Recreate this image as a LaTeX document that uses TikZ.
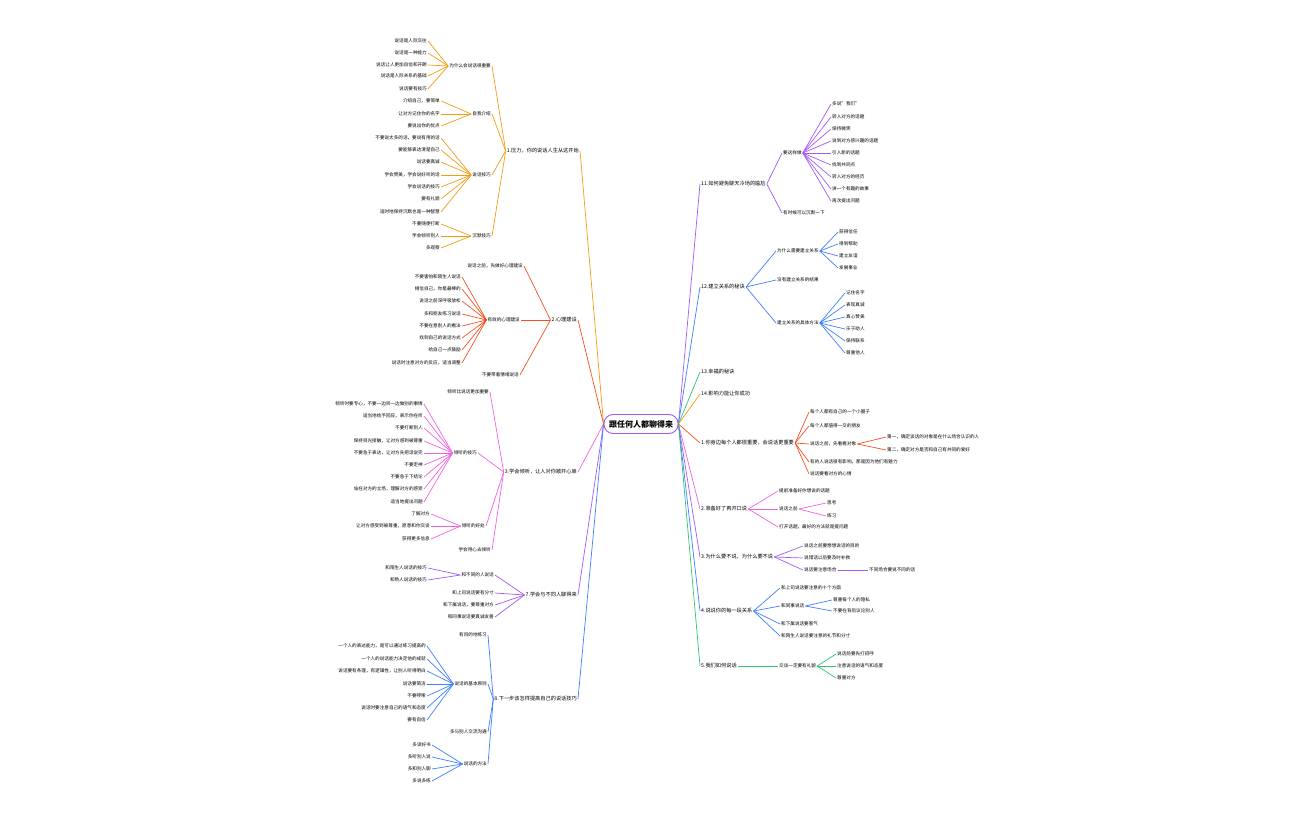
\documentclass[tikz,border=0pt]{standalone}
\usepackage{fontspec}
\setmainfont{Noto Sans CJK SC}
\usetikzlibrary{calc}
\definecolor{co}{HTML}{F39C12}
\definecolor{cr}{HTML}{F4511E}
\definecolor{cp}{HTML}{F062E0}
\definecolor{cv}{HTML}{A259F7}
\definecolor{cb}{HTML}{3D7EFF}
\definecolor{cg}{HTML}{2DC46E}
\tikzset{t/.style={inner sep=1pt,font=\fontsize{4.6}{5}\selectfont},
 m/.style={inner sep=1pt,font=\fontsize{5.2}{6}\selectfont},
 lk/.style={line width=0.7pt}}
\newcommand\RN[4]{\node[t,anchor=west] (#1) at (#2,#3) {#4};}
\newcommand\LN[4]{\node[t,anchor=east] (#1) at (#2,#3) {#4};}
\newcommand\RNM[4]{\node[m,anchor=west] (#1) at (#2,#3) {#4};}
\newcommand\LNM[4]{\node[m,anchor=east] (#1) at (#2,#3) {#4};}
\newcommand\rlk[3]{\draw[lk,#1] (#2.east) .. controls ($(#2.east)!0.5!(#3.west)$ |- #2.east) and ($(#2.east)!0.5!(#3.west)$ |- #3.west) .. (#3.west);}
\newcommand\llk[3]{\draw[lk,#1] (#2.west) .. controls ($(#2.west)!0.5!(#3.east)$ |- #2.west) and ($(#2.west)!0.5!(#3.east)$ |- #3.east) .. (#3.east);}
\newcommand\rls[3]{\foreach \cc in {#3}{\rlk{#1}{#2}{\cc}}}
\newcommand\lls[3]{\foreach \cc in {#3}{\llk{#1}{#2}{\cc}}}
\begin{document}
\begin{tikzpicture}[x=1pt,y=-1pt]
\useasboundingbox (0,0) rectangle (1296,840);
\node[draw=cv,line width=0.9pt,rounded corners=9pt,minimum width=74pt,minimum height=19pt,font=\fontsize{8}{9}\selectfont\bfseries,fill=white] (c) at (641,424) {跟任何人都聊得来};
% ---------- right ----------
\RNM{r1}{700}{184}{11.如何避免聊天冷场的尴尬}
\RN{r1a}{782}{153}{要这样做}
\RN{r1a1}{831}{104}{多说"我们"}
\RN{r1a2}{831}{117}{转入对方的话题}
\RN{r1a3}{831}{129}{保持微笑}
\RN{r1a4}{831}{141}{说到对方感兴趣的话题}
\RN{r1a5}{831}{153}{引入新的话题}
\RN{r1a6}{831}{165}{找到共同点}
\RN{r1a7}{831}{177}{转入对方的经历}
\RN{r1a8}{831}{189}{讲一个有趣的故事}
\RN{r1a9}{831}{201}{再次提出问题}
\RN{r1b}{782}{213}{有时候可以沉默一下}
\RNM{r2}{700}{287}{12.建立关系的秘诀}
\RN{r2a}{776}{251}{为什么需要建立关系}
\RN{r2a1}{838}{232}{获得信任}
\RN{r2a2}{838}{244}{得到帮助}
\RN{r2a3}{838}{256}{建立友谊}
\RN{r2a4}{838}{268}{发展事业}
\RN{r2b}{776}{280}{没有建立关系的结果}
\RN{r2c}{776}{323}{建立关系的具体方法}
\RN{r2c1}{845}{293}{记住名字}
\RN{r2c2}{845}{305}{表现真诚}
\RN{r2c3}{845}{317}{真心赞美}
\RN{r2c4}{845}{329}{乐于助人}
\RN{r2c5}{845}{341}{保持联系}
\RN{r2c6}{845}{353}{尊重他人}
\RNM{r3}{700}{372}{13.幸福的秘诀}
\RNM{r4}{700}{394}{14.影响力能让你成功}
\RNM{r5}{700}{443}{1.你身边每个人都很重要，会说话更重要}
\RN{r5a}{809}{412}{每个人都有自己的一个小圈子}
\RN{r5b}{809}{426}{每个人都值得一交的朋友}
\RN{r5c}{809}{444}{说话之前，先看看对象}
\RN{r5c1}{886}{437}{第一，确定谈话的对象是在什么场合认识的人}
\RN{r5c2}{886}{450}{第二，确定对方是否和自己有共同的爱好}
\RN{r5d}{809}{462}{有的人说话很有影响，那是因为他们有魅力}
\RN{r5e}{809}{474}{说话要看对方的心情}
\RNM{r6}{700}{509}{2.准备好了再开口说}
\RN{r6a}{778}{491}{提前准备好你想说的话题}
\RN{r6b}{778}{509}{说话之前}
\RN{r6b1}{826}{503}{思考}
\RN{r6b2}{826}{516}{练习}
\RN{r6c}{778}{527}{打开话题，最好的方法就是提问题}
\RNM{r7}{700}{557}{3.为什么要不说，为什么要不说}
\RN{r7a}{803}{546}{说话之前要想想说话的目的}
\RN{r7b}{803}{558}{说错话以后要及时补救}
\RN{r7c}{803}{570}{说话要注意场合}
\RN{r7c1}{868}{570}{不同场合要说不同的话}
\RNM{r8}{700}{611}{4.说说你的每一段关系}
\RN{r8a}{780}{588}{和上司说话要注意的十个方面}
\RN{r8b}{780}{606}{和同事说话}
\RN{r8b1}{832}{600}{尊重每个人的隐私}
\RN{r8b2}{832}{611}{不要在背后议论别人}
\RN{r8c}{780}{624}{和下属说话要客气}
\RN{r8d}{780}{636}{和陌生人说话要注意的礼节和分寸}
\RNM{r9}{700}{666}{5.我们如何说话}
\RN{r9a}{778}{666}{交谈一定要有礼貌}
\RN{r9a1}{836}{654}{说话前要先打招呼}
\RN{r9a2}{836}{666}{注意说话的语气和态度}
\RN{r9a3}{836}{678}{尊重对方}
\foreach \n/\k in {r1/cv,r2/cb,r3/cg,r4/co,r5/cr,r6/cp,r7/cv,r8/cb,r9/cg}{\rlk{\k}{c}{\n}}
\rls{cv}{r1}{r1a,r1b}\rls{cv}{r1a}{r1a1,r1a2,r1a3,r1a4,r1a5,r1a6,r1a7,r1a8,r1a9}
\rls{cb}{r2}{r2a,r2b,r2c}\rls{cb}{r2a}{r2a1,r2a2,r2a3,r2a4}\rls{cb}{r2c}{r2c1,r2c2,r2c3,r2c4,r2c5,r2c6}
\rls{cr}{r5}{r5a,r5b,r5c,r5d,r5e}\rls{cr}{r5c}{r5c1,r5c2}
\rls{cp}{r6}{r6a,r6b,r6c}\rls{cp}{r6b}{r6b1,r6b2}
\rls{cv}{r7}{r7a,r7b,r7c}\rls{cv}{r7c}{r7c1}
\rls{cb}{r8}{r8a,r8b,r8c,r8d}\rls{cb}{r8b}{r8b1,r8b2}
\rls{cg}{r9}{r9a}\rls{cg}{r9a}{r9a1,r9a2,r9a3}
% ---------- left ----------
\LNM{l1}{580}{151}{1.压力，你的说话人生从这开始}
\LN{l1a}{492}{66}{为什么会说话很重要}
\LN{l1a1}{428}{41}{说话是人际交往}
\LN{l1a2}{428}{53}{说话是一种能力}
\LN{l1a3}{428}{65}{说话让人更加自信和开朗}
\LN{l1a4}{428}{76}{说话是人际关系的基础}
\LN{l1a5}{428}{89}{说话要有技巧}
\LN{l1b}{492}{114}{自我介绍}
\LN{l1b1}{441}{101}{介绍自己，要简单}
\LN{l1b2}{441}{114}{让对方记住你的名字}
\LN{l1b3}{441}{126}{要说出你的优点}
\LN{l1c}{492}{175}{说话技巧}
\LN{l1c1}{441}{138}{不要说太多的话，要说有用的话}
\LN{l1c2}{441}{150}{要能够表达清楚自己}
\LN{l1c3}{441}{162}{说话要真诚}
\LN{l1c4}{441}{175}{学会赞美，学会说好听的话}
\LN{l1c5}{441}{187}{学会说话的技巧}
\LN{l1c6}{441}{199}{要有礼貌}
\LN{l1c7}{441}{212}{适时地保持沉默也是一种智慧}
\LN{l1d}{492}{236}{沉默技巧}
\LN{l1d1}{441}{224}{不要随便打断}
\LN{l1d2}{441}{236}{学会倾听别人}
\LN{l1d3}{441}{248}{多观察}
\LNM{l2}{578}{320}{2.心理建设}
\LN{l2a}{524}{266}{说话之前，先做好心理建设}
\LN{l2b}{521}{320}{有效的心理建设}
\LN{l2b1}{462}{277}{不要害怕和陌生人说话}
\LN{l2b2}{462}{289}{相信自己，你是最棒的}
\LN{l2b3}{462}{301}{说话之前深呼吸放松}
\LN{l2b4}{462}{314}{多和朋友练习说话}
\LN{l2b5}{462}{326}{不要在意别人的看法}
\LN{l2b6}{462}{338}{找到自己的说话方式}
\LN{l2b7}{462}{350}{给自己一点鼓励}
\LN{l2b8}{462}{363}{说话时注意对方的反应，适当调整}
\LN{l2c}{520}{375}{不要带着情绪说话}
\LNM{l3}{578}{472}{3.学会倾听，让人对你敞开心扉}
\LN{l3a}{490}{392}{倾听比说话更加重要}
\LN{l3b}{478}{453}{倾听的技巧}
\LN{l3b1}{424}{404}{倾听时要专心，不要一边听一边做别的事情}
\LN{l3b2}{424}{416}{适当地给予回应，表示你在听}
\LN{l3b3}{424}{428}{不要打断别人}
\LN{l3b4}{424}{441}{保持目光接触，让对方感到被尊重}
\LN{l3b5}{424}{453}{不要急于表达，让对方先把话说完}
\LN{l3b6}{424}{465}{不要走神}
\LN{l3b7}{424}{477}{不要急于下结论}
\LN{l3b8}{424}{489}{站在对方的立场，理解对方的感受}
\LN{l3b9}{424}{502}{适当地提出问题}
\LN{l3c}{486}{526}{倾听的好处}
\LN{l3c1}{431}{514}{了解对方}
\LN{l3c2}{431}{526}{让对方感受到被尊重，愿意和你交谈}
\LN{l3c3}{431}{539}{获得更多信息}
\LN{l3d}{492}{550}{学会用心去倾听}
\LNM{l4}{578}{595}{7.学会与不同人聊得来}
\LN{l4a}{495}{575}{和不同的人说话}
\LN{l4a1}{428}{568}{和陌生人说话的技巧}
\LN{l4a2}{428}{580}{和熟人说话的技巧}
\LN{l4b}{495}{593}{和上司说话要有分寸}
\LN{l4c}{495}{605}{和下属说话，要尊重对方}
\LN{l4d}{495}{617}{和同事说话要真诚友善}
\LNM{l5}{578}{699}{8.下一步该怎样提高自己的说话技巧}
\LN{l5a}{488}{635}{有目的地练习}
\LN{l5b}{488}{684}{说话的基本原则}
\LN{l5b1}{427}{646}{一个人的表达能力，是可以通过练习提高的}
\LN{l5b2}{427}{659}{一个人的说话能力决定他的成就}
\LN{l5b3}{427}{671}{说话要有条理，有逻辑性，让别人听得明白}
\LN{l5b4}{427}{684}{说话要简洁}
\LN{l5b5}{427}{696}{不要啰嗦}
\LN{l5b6}{427}{708}{说话时要注意自己的语气和态度}
\LN{l5b7}{427}{720}{要有自信}
\LN{l5c}{488}{732}{多与别人交流沟通}
\LN{l5d}{488}{764}{说话的方法}
\LN{l5d1}{432}{745}{多读好书}
\LN{l5d2}{432}{757}{多听别人说}
\LN{l5d3}{432}{769}{多和别人聊}
\LN{l5d4}{432}{781}{多说多练}
\foreach \n/\k in {l1/co,l2/cr,l3/cp,l4/cv,l5/cb}{\llk{\k}{c}{\n}}
\lls{co}{l1}{l1a,l1b,l1c,l1d}\lls{co}{l1a}{l1a1,l1a2,l1a3,l1a4,l1a5}\lls{co}{l1b}{l1b1,l1b2,l1b3}
\lls{co}{l1c}{l1c1,l1c2,l1c3,l1c4,l1c5,l1c6,l1c7}\lls{co}{l1d}{l1d1,l1d2,l1d3}
\lls{cr}{l2}{l2a,l2b,l2c}\lls{cr}{l2b}{l2b1,l2b2,l2b3,l2b4,l2b5,l2b6,l2b7,l2b8}
\lls{cp}{l3}{l3a,l3b,l3c,l3d}\lls{cp}{l3b}{l3b1,l3b2,l3b3,l3b4,l3b5,l3b6,l3b7,l3b8,l3b9}\lls{cp}{l3c}{l3c1,l3c2,l3c3}
\lls{cv}{l4}{l4a,l4b,l4c,l4d}\lls{cv}{l4a}{l4a1,l4a2}
\lls{cb}{l5}{l5a,l5b,l5c,l5d}\lls{cb}{l5b}{l5b1,l5b2,l5b3,l5b4,l5b5,l5b6,l5b7}\lls{cb}{l5d}{l5d1,l5d2,l5d3,l5d4}
\end{tikzpicture}
\end{document}
